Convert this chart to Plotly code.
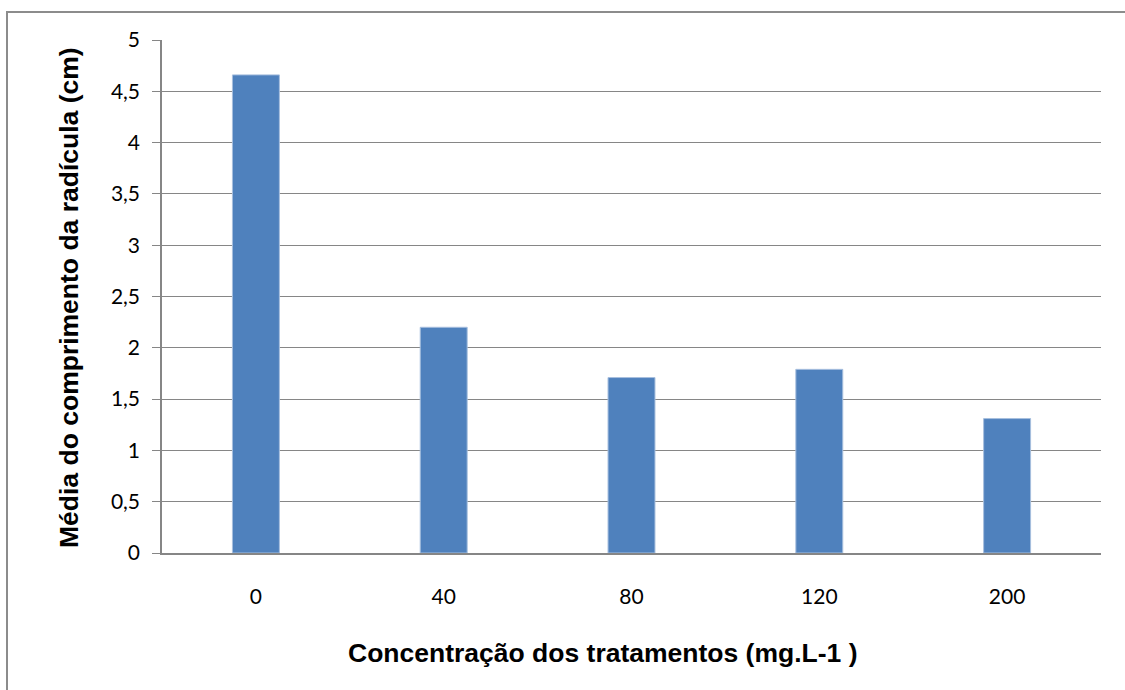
import plotly.graph_objects as go

categories = ["0", "40", "80", "120", "200"]
values = [4.66, 2.20, 1.71, 1.79, 1.31]
y_ticks = [0, 0.5, 1, 1.5, 2, 2.5, 3, 3.5, 4, 4.5, 5]

x_title = "Concentração dos tratamentos (mg.L-1 )"
y_title = "Média do comprimento da radícula (cm)"

W, H = 1125, 690
L, R, T, B = 162, 24, 40, 137
pw, ph = W - L - R, H - T - B

def px_to_paper_x(px):
    return (px - L) / pw

def px_to_paper_y(py):
    return (H - B - py) / ph

grid = "#868686"
tick_font = dict(size=21, family="Lato, Open Sans, sans-serif", color="black")

fig = go.Figure()
fig.add_trace(go.Bar(
    x=categories, y=values,
    marker=dict(color="#4F81BD", line=dict(color="#A7BFDE", width=1)),
    width=0.25,
))

fig.update_layout(
    width=W, height=H,
    margin=dict(l=L, r=R, t=T, b=B),
    paper_bgcolor="white", plot_bgcolor="white",
    separators=", ",
    showlegend=False,
    font=dict(family="Lato, Open Sans, sans-serif", size=21, color="black"),
)

fig.update_xaxes(
    type="category",
    showline=True, linecolor=grid, linewidth=1.5,
    ticks="", showgrid=False,
    tickfont=tick_font,
    ticklabelstandoff=24,
)
fig.update_yaxes(
    range=[0, 5], tickvals=y_ticks,
    showgrid=True, gridcolor=grid, gridwidth=1,
    showline=True, linecolor=grid, linewidth=1.5,
    ticks="outside", ticklen=8, tickcolor=grid, tickwidth=1,
    tickfont=tick_font,
    ticklabelstandoff=8,
    zeroline=False,
)

fig.add_annotation(
    text=x_title, xref="paper", yref="paper",
    x=px_to_paper_x(602), y=px_to_paper_y(653),
    xanchor="center", yanchor="middle", showarrow=False,
    font=dict(family="Liberation Sans, Arial, sans-serif", size=26.5, color="black", weight="bold"),
)
fig.add_annotation(
    text=y_title, xref="paper", yref="paper",
    x=px_to_paper_x(69), y=px_to_paper_y(298),
    xanchor="center", yanchor="middle", showarrow=False, textangle=-90,
    font=dict(family="Liberation Sans, Arial, sans-serif", size=26.5, color="black", weight="bold"),
)

# outer chart-area border (left and top edges visible)
fig.add_shape(
    type="rect", xref="paper", yref="paper",
    x0=px_to_paper_x(7), x1=px_to_paper_x(1140),
    y0=px_to_paper_y(700), y1=px_to_paper_y(12),
    line=dict(color="#8C8C8C", width=2), fillcolor="rgba(0,0,0,0)", layer="below",
)

fig.write_html("out.html")
